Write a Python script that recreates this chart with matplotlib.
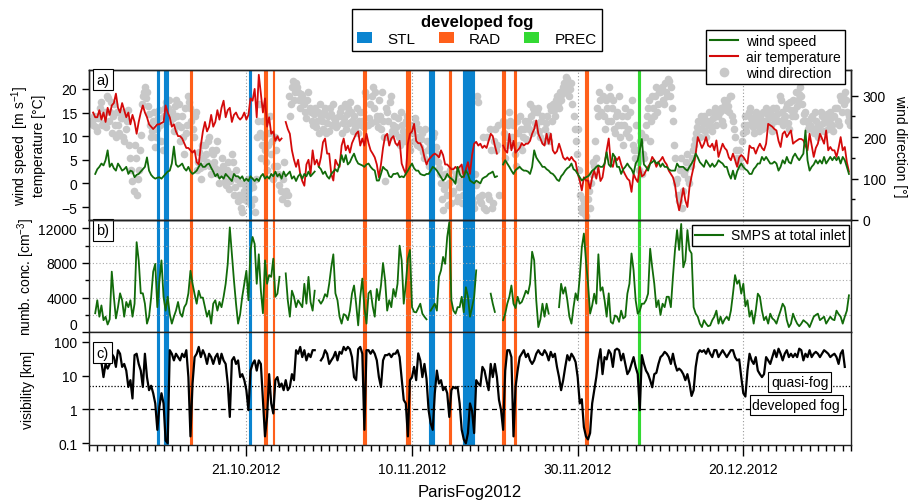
import numpy as np
import pandas as pd
import matplotlib
matplotlib.use('Agg')
import matplotlib.pyplot as plt
import matplotlib.dates as mdates
from matplotlib.patches import Patch
from matplotlib.lines import Line2D
from matplotlib.ticker import FixedLocator, NullLocator

nan = np.nan
plt.rcParams['font.family'] = ['Liberation Sans', 'DejaVu Sans']
plt.rcParams['font.size'] = 10
plt.rcParams['mathtext.default'] = 'regular'

# 6-hourly samples, 2012-10-02 00:00 ... 2013-01-01 18:00 (4 values per day)
time = pd.date_range('2012-10-02', periods=368, freq='6h')
# wind direction also read at the 03/09/15/21 h positions
time_mid = pd.date_range('2012-10-02 03:00', periods=368, freq='6h')

wind_speed = [
    nan, nan, nan, 2.0,  3, 3.5, 4.2, 3.8,
    4.9, 7, 3.5, 4.2,  3.2, 2.7, 4.2, 3.5,
    2.7, 3, 3.5, 2,  2.7, 2.5, 1.3, 1.8,
    2, 2.5, 3, 3.5,  5.5, 2.7, 1.8, 1.3,
    1, 1.2, 1.3, 1,  1.5, 2, 2.5, 2.7,
    4.2, 7.8, 4, 3.5,  3.8, 4.2, 3.2, 2.7,
    3.5, 2.5, 2, 2.3,  2.7, 3.5, 4.2, 3.5,
    3.5, 4, 4.2, 3.3,  2.5, 1.5, 2, 1,
    1.5, 1, 2, 1.5,  1, 0.5, 2, 1.5,
    1.5, 1, 1.5, 0.5,  1, 0.5, 1.5, 1,
    0.5, 1, 0.5, 1.5,  2, 1, 1.5, 1,
    2, 1.5, 2.5, 1.5,  2, 1, 2.5, 1.5,
    2, 2.5, 1, 1.5,  0.5, 1.5, 2, 1,
    2, 1.5, 2.5, 1.5,  2, 2.5, nan, 3.5,
    3, 2, 2.5, 1.5,  1, 2, 2.5, 3,
    2.5, 4, 6, 4.5,  6, 4, 4.5, 5.5,
    6.3, 5, 4.2, 4,  3.8, 3.5, 4, 4.2,
    3.5, 3, 2.7, 0.6,  0.6, 2, 3.5, 3,
    2.7, 1.5, 1.3, 2,  2, 2.2, 1.3, 1.5,
    1.3, 2, 2.7, 3.5,  4.2, 3.2, 2.7, 2.7,
    2, 1.8, 1.7, 2,  2, 2.7, 3.5, 3.2,
    2.7, 2, 1.3, 0.6,  1, 2, 1.3, 1,
    0.6, -0.1, 3.5, 2,  1.3, 1.5, 2.7, 2,
    0.6, 0.3, 0, 0.6,  0.3, 0, 1, 1.3,
    1.5, 2, 2.2, 2.5,  1.3, 1.5, nan, nan,
    4, 4.9, 4.2, 3.5,  2.7, 2, 2.8, 3.2,
    3.5, 3, 2.7, 2.7,  2.5, 2, 3.5, 7,
    5.5, 4.8, 4.2, 3.5,  3.5, 3, 2.7, 2.2,
    2, 1.5, 0.8, 0.5,  1.5, 2, 2.7, 3.2,
    3.5, 4.2, 3, 2.7,  2, 1.3, 0.6, 1,
    1.3, 1.5, 2, 2.7,  3, 3.5, 3.8, 3.5,
    3.5, 4.2, 6.6, 4,  3.5, 6.3, 5.6, 3.5,
    3.5, 2, 3, 3.5,  4.2, 3.5, 3, 2,
    4.2, 4.9, 7, 9.4,  4, 3.5, 2.7, 4.2,
    4.5, 4.9, 4.2, 4.5,  3.5, 4.2, 3.5, 3.5,
    3, 2.7, 2.7, 2.7,  4.2, 3.5, 3.5, 3.5,
    3, 2.7, 3.5, 4.2,  5, 6.3, 5.5, 4.5,
    4, 3.5, 4.9, 4.2,  3.5, 4.2, 3.5, 4,
    4.9, 4.5, 4.2, 3.5,  3.5, 2, 1, 2.7,
    0.9, 2.5, 3.5, 4.2,  3.5, 3, 2.7, 2,
    2, 3, 3.5, 4.2,  4.2, 5.6, 4.9, 5.6,
    4.9, 4.2, 4.2, 4.6,  4.2, 2.7, 3.5, 4.9,
    4.2, 5.6, 4.5, 4.2,  5.6, 6.3, 5.5, 4.9,
    5.6, 6.3, 11.2, 4.9,  2.7, 3.5, 4, 4.9,
    4.2, 4.9, 4.2, 5.6,  4.2, 4.9, 5.6, 4.9,
    5.6, 4.9, 5.6, 4.2,  5.6, 4.9, 3.5, 2,
]

air_temp = [
    nan, nan, 15, 14,  14, 15.5, 13.5, 15,
    13, 16, 14.5, 16.5,  17, 19, 16, 15,
    17, 15.5, 14, 15,  12.5, 14.5, 13, 10.5,
    13, 15, 16.5, 15,  14, 12.5, 12, 11.5,
    12, 12.5, 12.5, 12.8,  13, 16.5, 15, 14,
    12, 12.5, 11, 10,  10, 9.5, 8.5, 7.5,
    7.5, 7, 6.5, 7,  4.5, 4, 8, 11,
    13, 11, 12, 14.5,  12, 13, 15.5, 13.5,
    16, 17.5, 14, 15.5,  16, 13, 14.5, 15,
    14, 13.5, 14, 15,  13.5, 14.5, 18, 17.5,
    20, 14, 23, 19,  15, 18, 12, 14,
    10.5, 11, 9, 10,  9, 9.5, nan, 13,
    11.5, 10.5, 7, 5,  3.5, 5, 2, 0.5,
    -0.5, 4, 5, 2,  7, 4, 5, 3.5,
    5.5, 8.7, 9.5, 6.3,  6.3, 2, 0.6, 5,
    4, 3.5, 8, 9.5,  7, 8, 6.5, 8.5,
    9.5, 10.5, 11, 8,  9.5, 8, 10.5, 8.5,
    7, 6.3, 5.5, 4,  1.3, 4, 7.5, 10,
    10.5, 8, 9.5, 10,  8.5, 8, 9, 4.2,
    3, 2, 8.4, 10.5,  11, 12.6, 9, 8.5,
    8.5, 7.5, 5.5, 4,  5, 5.5, 6, 6.3,
    6, 5.5, 7, 6,  4, 4, 3.5, 3,
    3, 3.5, 3, 3.5,  4, 1.3, 3, 4.5,
    2, 6, 8.4, 8.8,  8, 8.4, 7.5, 8,
    7.5, 9, 10.5, 10,  8, 6.3, nan, nan,
    8, 7, 6.5, 10.5,  7, 9, 6.5, 7,
    7.5, 8.5, 8, 8.4,  8.4, 9, 10.5, 11.5,
    13.3, 10.5, 9.5, 8.4,  8, 10.5, 8.4, 10.5,
    7, 6.3, 6.8, 8.4,  7, 5.5, 5, 5.5,
    4.9, 5.6, 4.9, 4.5,  2.1, 0.6, -1.5, 1.3,
    0.6, 0.6, -1.1, 1.3,  2.7, 1, 3.5, 0.5,
    1.3, 4.2, 7, 9.5,  4.2, 3.5, 5.6, 4.9,
    5.6, 4, 2.7, 1.8,  1.0, 0.6, -1.8, 2,
    1.0, 0.3, 3.5, 1.5,  1.8, 2.7, 3.5, 4.2,
    5.6, 4.9, 3.5, 4.5,  4.9, 5.6, 4.6, 4,
    2.7, 2, 1.3, -0.3,  -3.6, -5.7, -3.6, -1,
    -3.6, -5, -0.8, 1.5,  3.5, 6.3, 9.8, 8.7,
    7.5, 8.4, 9.8, 8,  7.7, 8.4, 7, 9.1,
    5.6, 7, 8.4, 7.5,  7, 5.5, 4.9, 6.3,
    5, 3.5, 5.5, 6,  5.6, 4.9, 4.2, 8,
    7.5, 7.5, 6.3, 7.5,  8.4, 7.5, 7, 8.4,
    12.6, 12.3, 12, 11.5,  11.2, 9, 7.7, 10.5,
    11, 9.8, 10.5, 11.2,  8.4, 8.8, 9.1, 9.4,
    9.4, 9.1, 8, 7,  10.5, 8, 5.6, 7.5,
    8.4, 10.5, 9.5, 8.4,  11.2, 7, 7.7, 7,
    7, 5.6, 7.5, 9.8,  7, 7.7, 4.5, 2.5,
]

wind_dir = [
    nan, 240, 230, 245,  215, 250, 285, 235,
    225, 295, 260, 210,  280, 200, 230, 260,
    245, 190, 220, 265,  150, 95, 180, 60,
    120, 205, 300, 320,  310, 255, 200, 240,
    175, 220, 265, 190,  250, 285, 270, 240,
    260, 215, 290, 230,  190, 250, 160, 210,
    300, 270, 220, 250,  120, 165, 100, 150,
    180, 140, 200, 110,  160, 125, 190, 90,
    150, 110, 85, 140,  95, 160, 60, 120,
    45, 90, 20, 70,  60, 100, 35, 80,
    20, 200, 280, 150,  240, 170, 120, 210,
    160, 100, 200, 130,  85, 50, 140, 70,
    60, 250, 320, 290,  330, 310, 270, 300,
    280, 245, 310, 260,  230, 270, 240, 210,
    250, 220, 270, 235,  215, 255, 280, 240,
    230, 260, 210, 245,  220, 270, 285, 240,
    250, 230, 210, 260,  240, 225, 300, 245,
    235, 320, 310, 250,  290, 220, 240, 95,
    260, 200, 300, 230,  210, 245, 180, 230,
    190, 240, 215, 170,  225, 190, 235, 200,
    175, 210, 150, 190,  130, 170, 200, 145,
    160, 125, 90, 25,  110, 60, 90, 40,
    70, 110, 55, 95,  40, 80, 120, 60,
    100, 50, 30, 85,  285, 45, 60, 30,
    200, 50, 170, 40,  220, 180, 60, nan,
    240, 150, 200, 260,  180, 230, 130, 210,
    250, 170, 220, 195,  240, 280, 210, 260,
    230, 270, 200, 250,  220, 250, 190, 265,
    280, 250, 300, 270,  290, 320, 310, 340,
    300, 330, 250, 190,  220, 60, 20, 40,
    10, 50, 30, 110,  130, 150, 250, 290,
    300, 220, 270, 320,  240, 290, 210, 260,
    300, 230, 180, 270,  250, 200, 290, 170,
    230, 140, 190, 110,  150, 230, 270, 190,
    300, 250, 320, 280,  310, 290, 330, 300,
    335, 320, 240, 150,  100, 45, 150, 70,
    120, 160, 90, 150,  180, 210, 240, 200,
    220, 250, 200, 230,  240, 215, 260, 230,
    250, 270, 230, 280,  290, 260, 300, 240,
    200, 150, 170, 130,  210, 250, 230, 270,
    240, 210, 260, 230,  250, 220, 240, 270,
    230, 260, 215, 250,  270, 240, 290, 230,
    250, 280, 220, 265,  290, 250, 275, 305,
    300, 240, 260, 220,  230, 250, 210, 240,
    200, 230, 250, 215,  240, 220, 260, 230,
    250, 270, 230, 290,  300, 310, 260, 250,
]

wind_dir_mid = [
    nan, 235, 250, 225,  245, 270, 230, 260,
    300, 240, 285, 250,  230, 260, 210, 245,
    200, 255, 240, 180,  120, 70, 150, 100,
    170, 280, 310, 295,  275, 230, 215, 260,
    200, 245, 230, 170,  270, 255, 290, 260,
    245, 275, 250, 280,  225, 200, 270, 230,
    285, 240, 200, 260,  140, 125, 180, 130,
    160, 190, 130, 170,  140, 170, 110, 120,
    130, 95, 120, 75,  110, 140, 80, 100,
    60, 30, 50, 85,  45, 75, 90, 50,
    100, 240, 210, 180,  200, 140, 180, 250,
    190, 130, 170, 110,  70, 100, 60, 40,
    300, 280, 335, 310,  320, 290, 305, 285,
    260, 290, 270, 240,  255, 225, 260, 280,
    240, 260, 210, 250,  270, 230, 245, 225,
    250, 270, 235, 280,  255, 235, 260, 215,
    225, 270, 240, 230,  260, 310, 230, 280,
    300, 270, 240, 225,  250, 310, 200, 270,
    240, 285, 215, 250,  225, 200, 260, 215,
    205, 250, 185, 230,  210, 245, 180, 220,
    195, 165, 220, 170,  180, 150, 210, 175,
    140, 110, 50, 75,  85, 35, 120, 65,
    100, 45, 80, 120,  60, 100, 35, 90,
    70, 40, 110, 300,  55, 40, 200, 25,
    60, 220, 30, 190,  170, 230, nan, nan,
    210, 180, 230, 240,  200, 160, 240, 180,
    220, 200, 240, 230,  220, 250, 270, 235,
    260, 215, 240, 190,  235, 205, 275, 240,
    265, 290, 280, 310,  305, 330, 345, 320,
    315, 280, 220, 160,  120, 30, 50, 15,
    30, 70, 90, 140,  190, 270, 310, 260,
    250, 290, 240, 300,  270, 220, 250, 230,
    200, 250, 230, 210,  220, 260, 180, 150,
    170, 120, 210, 160,  200, 250, 290, 240,
    270, 300, 260, 310,  320, 280, 310, 340,
    300, 270, 180, 90,  60, 120, 30, 110,
    140, 100, 130, 170,  195, 225, 220, 250,
    235, 215, 240, 260,  225, 245, 270, 250,
    260, 240, 290, 265,  275, 300, 250, 220,
    170, 140, 150, 190,  230, 215, 260, 245,
    225, 250, 240, 215,  235, 260, 225, 255,
    245, 230, 270, 240,  255, 300, 260, 245,
    270, 235, 285, 250,  265, 310, 290, 320,
    280, 255, 240, 230,  245, 220, 260, 225,
    215, 260, 235, 245,  255, 235, 245, 215,
    270, 240, 300, 260,  280, 290, 240, 230,
]

smps = [
    nan, nan, nan, 2200,  3700, 1800, 3100, 1400,
    1800, 900, 1500, 7000,  4100, 1600, 2900, 4500,
    3700, 1800, 3500, 2900,  3700, 1800, 3300, 10400,
    8300, 4500, 4500, 3300,  1000, 1800, 4000, 7000,
    7900, 2900, 6000, 8300,  4100, 2500, 4100, 2100,
    1000, 1800, 2500, 3500,  2200, 1800, 2900, 3300,
    4500, 7100, 5600, 4400,  3300, 4800, 4000, 4000,
    2900, 1800, 2500, 1000,  3300, 3700, 2500, 3500,
    2900, 4100, 5600, 7900,  12100, 9000, 6000, 3300,
    1000, 2100, 4100, 5600,  7100, 3700, 9500, 11000,
    10200, 5600, 9000, 4800,  2200, 8300, 5600, 6600,
    6400, 8500, 4100, 4460,  6400, nan, nan, 6800,
    3700, 1800, 4800, 4100,  2900, 3700, 3300, 2900,
    5600, 3300, 6400, 3500,  2500, 4800, nan, 3700,
    3300, 3700, 4400, 4100,  5600, 7500, 9000, 4500,
    3700, 1800, 1000, 2100,  1950, 1400, 2500, 4460,
    5400, 3300, 800, 4100,  6200, 2900, 1000, 4500,
    4800, 3000, 1800, 5000,  3700, 5400, 8000, 6000,
    2500, 3700, 2900, 5000,  4100, 5600, 10000, 8300,
    3300, 5600, 8500, 9500,  2900, 2350, 2300, 2800,
    3300, 2150, 1800, 1500,  nan, 2500, 2900, 3300,
    2500, 6400, 7150, 8700,  7900, 11000, 12700, 3700,
    2500, 2150, 2900, 2900,  4100, 2300, 5200, 4100,
    1800, 2900, 4100, 7150,  nan, nan, nan, nan,
    nan, nan, 4460, 3300,  2350, nan, nan, nan,
    1400, 2150, 3300, 4100,  5400, 3300, 2800, 4100,
    3300, 3500, 4100, 4800,  4460, 5600, 9300, 8300,
    3700, 600, 1500, 3300,  1800, 3300, 2150, nan,
    nan, nan, nan, 2900,  5600, 4460, 5200, 3700,
    1800, 1000, 2900, 4500,  3700, 6400, 9800, 11400,
    8300, 5600, 2150, 3100,  4460, 3300, 9000, 4800,
    5200, 3700, 1800, 4500,  1200, 1000, 1950, 1800,
    1200, 2500, 1600, 1800,  4460, 5600, 9100, 7150,
    3700, 2150, 2500, 3300,  3300, 3700, 4460, 9650,
    7500, 5600, 2900, 3700,  2000, 3300, 2900, 4100,
    4100, 2900, 6400, 9500,  11800, 9500, 12500, 7500,
    8300, 11800, 9500, 9100,  2900, 2150, 1800, 1000,
    600, 1400, 1000, 700,  800, 1400, 1800, 2500,
    1000, 1800, 1000, 1500,  1800, 1400, 2500, 4460,
    6600, 5600, 6000, 4460,  5600, 3000, 3700, 1800,
    2500, 1000, 2500, 4460,  4100, 2500, 1400, 1800,
    1000, 2150, 1600, 1400,  1000, 1800, 2500, 3300,
    2900, 1400, 600, 1000,  2150, 1500, 1000, 700,
    1000, 1400, 1200, 1000,  600, 1200, 1800, 2000,
    2150, 1400, 1600, 1800,  1000, 1400, 1800, 1500,
    1400, 2500, 2100, 1800,  1000, 1800, 2500, 4270,
]

visibility = [
    nan, nan, nan, nan,  nan, nan, 25, 9,
    22, 16, 22, 44,  35, 18, 56, 44,
    18, 22, 14, 4.6,  7.3, 2.1, 40, 44,
    22, 14, 4.6, 44,  9, 3.7, 5, 3.0,
    1.5, 0.25, 1.2, 3,  1.5, 0.12, 0.1, 56,
    44, 28, 44, 35,  28, 44, 35, 56,
    9, 0.16, 5.8, 35,  44, 70, 35, 56,
    40, 22, 44, 35,  22, 35, 44, 22,
    44, 28, 22, 5.8,  0.6, 28, 35, 22,
    28, 9, 11, 7.3,  3.7, 0.95, 14, 22,
    28, 14, 28, 22,  1.9, 0.16, 0.6, 11,
    1.5, 0.76, 7.3, 9,  4.6, 5.8, 3.7, 7.3,
    3.7, 4.6, 11, 7.3,  56, 44, 70, 35,
    56, 28, 44, 35,  56, 56, nan, nan,
    28, 35, 56, 44,  22, 28, 35, 50,
    28, 50, 44, 70,  56, 70, 60, 35,
    9, 7.3, 60, 70,  44, 0.25, 56, 56,
    44, 56, 44, 28,  9, 4.6, 28, 40,
    40, 44, 35, 44,  44, 56, 35, 8,
    1.9, 1.5, 0.16, 7.3,  9, 18, 7.3, 45,
    28, 9, 22, 8,  0.95, 0.39, 0.25, 3,
    14, 5.8, 7.3, 3.7,  4.6, 3.0, 0.6, 3.7,
    4.6, 4.2, 4.6, 1.5,  0.25, 0.13, 0.1, 0.2,
    1.5, 0.9, 0.2, 7.3,  5.8, 5, 18, 14,
    7, 3.7, 22, 9,  22, 9, 1.9, 0.95,
    0.25, 14, 56, 56,  35, 0.16, 4.6, 14,
    35, 44, 56, 35,  44, 28, 22, 28,
    44, 56, 44, 40,  56, 44, 28, 50,
    35, 44, 18, 9,  3.7, 7.3, 18, 40,
    28, 44, 35, 25,  9, 1.5, 2, 0.3,
    0.16, 0.13, 0.2, 1.5,  3.7, 9, 28, 60,
    11, 35, 30, 56,  44, 18, 56, 62,
    56, 28, 44, 22,  11, 14, 22, 35,
    18, 11, 0.95, 40,  22, 14, 11, 7.3,
    4.5, 11, 12, 22,  35, 40, 50, 44,
    35, 22, 44, 22,  14, 16, 14, 11,
    7.3, 11, 5.8, 2.5,  3.7, 18, 44, 56,
    50, 56, 44, 62,  44, 35, 56, 56,
    35, 44, 56, 44,  35, 44, 56, 56,
    35, 28, 30, 9,  3.0, 2.4, 14, 44,
    28, 22, 35, 14,  11, 9, 11, 35,
    28, 22, 35, 56,  35, 62, 44, 28,
    44, 56, 35, 44,  35, 44, 35, 62,
    56, 28, 44, 35,  56, 35, 44, 50,
    44, 35, 44, 56,  50, 44, 35, 40,
    44, 35, 22, 44,  56, 18, nan, nan,
]

# developed fog events
fog_start = ['2012-10-10 04:00', '2012-10-11 01:30', '2012-10-14 05:00', '2012-10-21 08:30',
             '2012-10-23 04:00', '2012-10-24 06:00', '2012-11-04 02:30', '2012-11-09 07:00',
             '2012-11-12 02:30', '2012-11-14 12:00', '2012-11-16 02:30', '2012-11-16 19:00',
             '2012-11-20 21:30', '2012-11-22 07:00', '2012-11-30 20:30', '2012-12-07 07:00']
fog_end = ['2012-10-10 11:00', '2012-10-11 13:00', '2012-10-14 11:00', '2012-10-21 14:30',
           '2012-10-23 12:30', '2012-10-24 09:00', '2012-11-04 09:30', '2012-11-09 17:00',
           '2012-11-12 14:30', '2012-11-14 15:30', '2012-11-16 19:00', '2012-11-17 13:00',
           '2012-11-21 05:00', '2012-11-22 12:00', '2012-12-01 07:00', '2012-12-07 12:00']
fog_type = ['STL', 'STL', 'RAD', 'STL', 'RAD', 'RAD', 'RAD', 'RAD',
            'STL', 'RAD', 'STL', 'STL', 'RAD', 'RAD', 'RAD', 'PREC']
fog_colors = {'STL': '#0a84d0', 'RAD': '#ff5f1a', 'PREC': '#33d933'}

major_dates = ['2012-10-21', '2012-11-10', '2012-11-30', '2012-12-20']

green = '#126b0a'
red = '#d40a0a'
gray = '#c8c8c8'
spine_c = '#222222'

fig = plt.figure(figsize=(9.1, 5.02), dpi=100)
L, W = 89 / 910, 762 / 910
ax_a = fig.add_axes([L, 1 - 221 / 502, W, 150 / 502])
ax_b = fig.add_axes([L, 1 - 333.3 / 502, W, 112.3 / 502], sharex=ax_a)
ax_c = fig.add_axes([L, 1 - 446 / 502, W, 112.7 / 502], sharex=ax_a)
ax_d = ax_a.twinx()
ax_a.set_zorder(ax_d.get_zorder() + 1)
ax_a.patch.set_visible(False)

# panel a
ax_d.plot(time, wind_dir, 'o', color=gray, ms=5.5, mec='none', zorder=0.5)
ax_d.plot(time_mid, wind_dir_mid, 'o', color=gray, ms=5.5, mec='none', zorder=0.5)
ax_a.plot(time, air_temp, color=red, lw=1.3)
ax_a.plot(time, wind_speed, color=green, lw=1.3)
# panel b
ax_b.plot(time, smps, color=green, lw=1.3, zorder=3)
# panel c
ax_c.plot(time, visibility, color='black', lw=1.6, zorder=3)
ax_c.set_yscale('log')
ax_c.axhline(5, color='black', ls=(0, (1, 1.5)), lw=0.9, zorder=2)
ax_c.axhline(1, color='black', ls=(0, (4, 3)), lw=0.9, zorder=2)

for ax in (ax_d, ax_b, ax_c):
    for s, e, k in zip(fog_start, fog_end, fog_type):
        ax.axvspan(pd.Timestamp(s), pd.Timestamp(e), color=fog_colors[k], lw=0.8, zorder=1)

ax_a.set_xlim(pd.Timestamp('2012-10-02'), pd.Timestamp('2013-01-02'))
ax_a.set_ylim(-7.75, 24)
ax_d.set_ylim(0, 362)
ax_b.set_ylim(0, 12960)
ax_c.set_ylim(0.089, 189)

major_x = mdates.date2num(pd.to_datetime(major_dates))
ax_c.xaxis.set_major_locator(FixedLocator(major_x))
ax_c.xaxis.set_minor_locator(mdates.DayLocator())
ax_c.xaxis.set_major_formatter(mdates.DateFormatter('%d.%m.%Y'))

ax_a.set_yticks([-5, 0, 5, 10, 15, 20])
ax_d.set_yticks([0, 100, 200, 300])
ax_d.set_yticks([50, 150, 250], minor=True)
ax_b.set_yticks([0, 4000, 8000, 12000])
ax_b.set_yticks([2000, 6000, 10000], minor=True)
ax_c.set_yticks([0.1, 1, 10, 100])
ax_c.set_yticklabels(['0.1', '1', '10', '100'])
ax_c.yaxis.set_minor_locator(NullLocator())

for ax in (ax_a, ax_b, ax_c, ax_d):
    for sp in ax.spines.values():
        sp.set_color(spine_c)
        sp.set_linewidth(1.0)
    ax.tick_params(axis='y', which='major', direction='out', length=5, width=1, labelsize=10)
    ax.tick_params(axis='y', which='minor', direction='out', length=3, width=1)
for ax in (ax_a, ax_b):
    ax.tick_params(axis='x', which='both', bottom=False, labelbottom=False)
ax_c.tick_params(axis='x', which='major', direction='out', length=8, width=1, labelsize=10, pad=4)
ax_c.tick_params(axis='x', which='minor', direction='out', length=4, width=1)

# keep the "0" of panel b clear of the "100" of panel c
ax_b.yaxis.get_major_ticks()[0].label1.set_verticalalignment('bottom')

for ax in (ax_a, ax_b, ax_c):
    ax.grid(axis='x', which='major', ls=(0, (1, 2)), color='#999999', lw=0.8)
ax_b.grid(axis='y', which='both', ls=(0, (1, 2)), color='#aaaaaa', lw=0.8)

ax_a.set_ylabel('wind speed  [m s$^{-1}$]\ntemperature [°C]', va='center', linespacing=1.1)
ax_a.yaxis.set_label_coords(-0.08, 0.5)
ax_d.set_ylabel('wind direction [°]', rotation=270, va='center')
ax_d.yaxis.set_label_coords(1.064, 0.5)
ax_b.set_ylabel('numb. conc. [cm$^{-3}$]', va='center')
ax_b.yaxis.set_label_coords(-0.082, 0.5)
ax_c.set_ylabel('visibility [km]', va='center')
ax_c.yaxis.set_label_coords(-0.08, 0.5)
fig.text(470 / 910, 1 - 493 / 502, 'ParisFog2012', ha='center', va='center', fontsize=12)

box = dict(boxstyle='square,pad=0.25', fc='white', ec='black', lw=0.8)
ax_a.text(0.018, 0.935, 'a)', transform=ax_a.transAxes, ha='center', va='center', fontsize=10.5, bbox=box, zorder=6)
ax_b.text(0.018, 0.91, 'b)', transform=ax_b.transAxes, ha='center', va='center', fontsize=10.5, bbox=box, zorder=6)
ax_c.text(0.018, 0.82, 'c)', transform=ax_c.transAxes, ha='center', va='center', fontsize=10.5, bbox=box, zorder=6)
ax_c.text(0.933, 0.559, 'quasi-fog', transform=ax_c.transAxes, ha='center', va='center', fontsize=10,
          bbox=dict(boxstyle='square,pad=0.2', fc='white', ec='black', lw=0.8), zorder=6)
ax_c.text(0.928, 0.355, 'developed fog', transform=ax_c.transAxes, ha='center', va='center', fontsize=10,
          bbox=dict(boxstyle='square,pad=0.2', fc='white', ec='black', lw=0.8), zorder=6)

# legends
fog_handles = [Patch(facecolor=fog_colors[k], edgecolor='none', label=k) for k in ['STL', 'RAD', 'PREC']]
leg = fig.legend(handles=fog_handles, title='developed fog', ncol=3, loc='center',
                 bbox_to_anchor=(477 / 910, 1 - 31 / 502), fancybox=False, framealpha=1,
                 edgecolor='black', fontsize=11, title_fontproperties={'weight': 'bold', 'size': 12},
                 handlelength=1.0, handleheight=0.7, handletextpad=1.0, columnspacing=1.5,
                 borderpad=0.35, labelspacing=0.2)
leg.get_frame().set_linewidth(1.0)

a_handles = [Line2D([], [], color=green, lw=1.5, label='wind speed'),
             Line2D([], [], color=red, lw=1.5, label='air temperature'),
             Line2D([], [], ls='none', marker='o', ms=7, mec='none', color=gray, label='wind direction')]
leg_a = ax_a.legend(handles=a_handles, loc='upper right', bbox_to_anchor=(852 / 910, 1 - 24 / 502),
                    bbox_transform=fig.transFigure, fancybox=False, framealpha=1, edgecolor='black',
                    fontsize=10, handlelength=2.0, labelspacing=0.15, borderpad=0.3, handletextpad=0.6)
leg_a.get_frame().set_linewidth(1.0)

leg_b = ax_b.legend(handles=[Line2D([], [], color=green, lw=1.5, label='SMPS at total inlet')],
                    loc='upper right', bbox_to_anchor=(856 / 910, 1 - 219 / 502),
                    bbox_transform=fig.transFigure, fancybox=False, framealpha=1, edgecolor='black',
                    fontsize=10, handlelength=2.0, borderpad=0.25, handletextpad=0.6)
leg_b.get_frame().set_linewidth(1.0)

fig.savefig('out.png', dpi=100)
